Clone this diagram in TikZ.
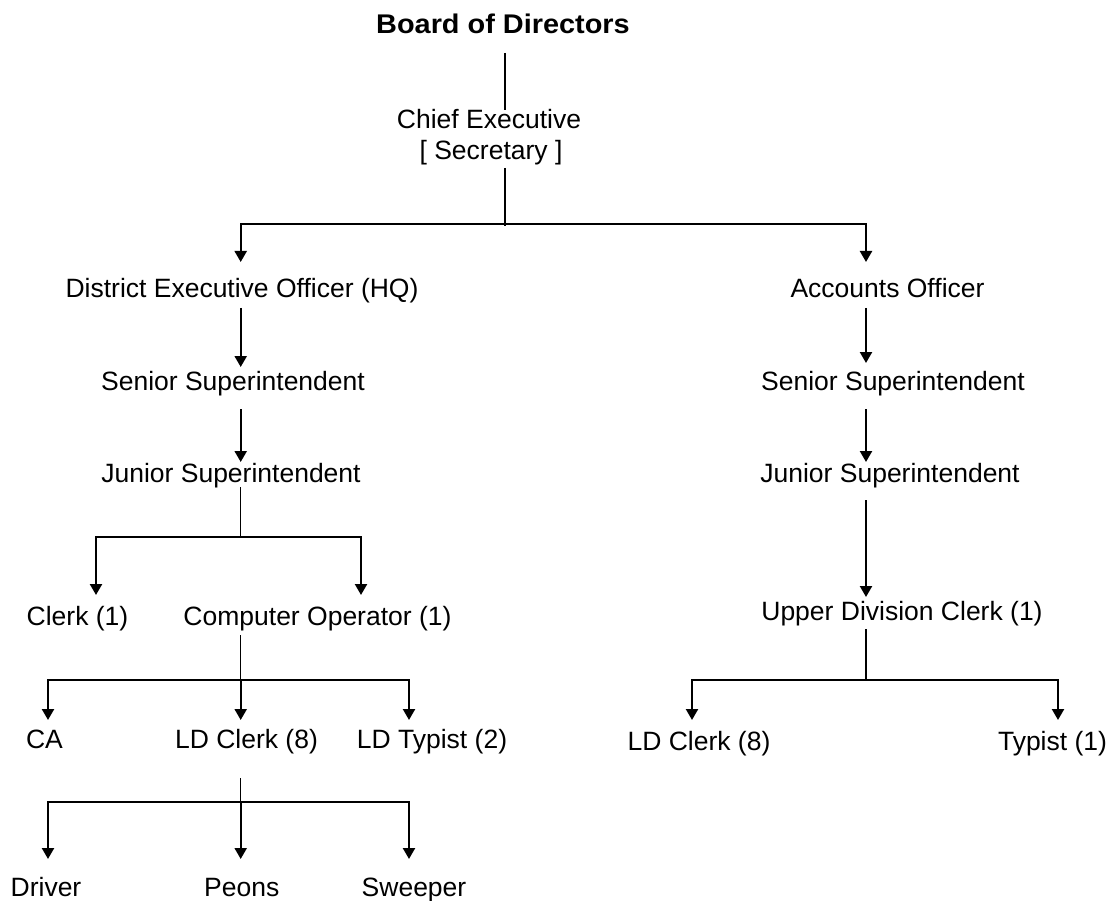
\documentclass[tikz,border=0pt]{standalone}
\usepackage{fontspec}
\setmainfont{Liberation Sans}
\usetikzlibrary{arrows.meta,calc}
\begin{document}
\begin{tikzpicture}[x=1pt,y=-1pt,
  lbl/.style={anchor=base,inner sep=0pt,font=\fontsize{26.5}{30}\selectfont},
  ttl/.style={anchor=base,inner sep=0pt,font=\fontsize{27}{30}\selectfont\bfseries\addfontfeature{FakeStretch=1.07}},
  thinl/.style={line width=1.2pt},
  arr/.style={line width=2.3pt,-{Triangle[width=12pt,length=11pt]}}]
\useasboundingbox (0,0) rectangle (1111,901);
% columns and junctions
\coordinate (cM) at (505,0);
\coordinate (cL) at (240.7,0);
\coordinate (cR) at (866,0);
\coordinate (jTop) at (505,224);
\coordinate (jJ) at (240.7,537);
\coordinate (jC) at (240.7,680);
\coordinate (jD) at (240.7,802);
\coordinate (jU) at (866,680);
% nodes
\node[ttl] (board) at (503,34) {Board of Directors};
\node[lbl] (chief) at (489,128.5) {Chief Executive};
\node[lbl] (sec) at (491,160) {[ Secretary ]};
\node[lbl] (deo) at (242,298) {District Executive Officer (HQ)};
\node[lbl] (ao) at (887.5,298) {Accounts Officer};
\node[lbl] (ssL) at (233,390) {Senior Superintendent};
\node[lbl] (jsL) at (231,482) {Junior Superintendent};
\node[lbl] (ssR) at (893,390) {Senior Superintendent};
\node[lbl] (jsR) at (890,482) {Junior Superintendent};
\node[lbl] (clerk) at (77.5,625) {Clerk (1)};
\node[lbl] (compop) at (317.5,625) {Computer Operator (1)};
\node[lbl] (udc) at (902,620) {Upper Division Clerk (1)};
\node[lbl] (ca) at (44.5,748) {CA};
\node[lbl] (ldcL) at (246.5,748) {LD Clerk (8)};
\node[lbl] (ldt) at (432,748) {LD Typist (2)};
\node[lbl] (ldcR) at (699,750) {LD Clerk (8)};
\node[lbl] (typ) at (1052.5,750) {Typist (1)};
\node[lbl] (driver) at (46,896) {Driver};
\node[lbl] (peons) at (241.7,896) {Peons};
\node[lbl] (sweeper) at (414,896) {Sweeper};
% top
\draw[thinl] ($(cM |- board.base)+(0,19)$) -- ($(cM |- chief.base)+(0,-18)$);
\draw[thinl] ($(cM |- sec.base)+(0,8)$) -- ($(jTop)+(0,2)$);
\draw[arr] (jTop) -| ($(cL |- deo.base)+(0,-36)$);
\draw[arr] (jTop) -| ($(cR |- ao.base)+(0,-36)$);
% left branch
\draw[arr] ($(cL |- deo.base)+(0,10)$) -- ($(cL |- ssL.base)+(0,-23)$);
\draw[arr] ($(cL |- ssL.base)+(0,19)$) -- ($(cL |- jsL.base)+(0,-20)$);
\draw[thinl] ($(cL |- jsL.base)+(0,5)$) -- (jJ);
\draw[arr] (jJ) -| ($(clerk.base)+(18.5,-30)$);
\draw[arr] (jJ) -| ($(compop.base)+(43.5,-30)$);
\draw[thinl] ($(cL |- compop.base)+(0,10)$) -- (jC);
\draw[arr] (jC) -| ($(ca.base)+(3.5,-28)$);
\draw[arr] (jC) -- ($(cL |- ldcL.base)+(0,-28)$);
\draw[arr] (jC) -| ($(ldt.base)+(-23,-28)$);
\draw[thinl] ($(cL |- ldcL.base)+(0,30)$) -- (jD);
\draw[arr] (jD) -| ($(driver.base)+(2,-37)$);
\draw[arr] (jD) -- ($(cL |- peons.base)+(0,-37)$);
\draw[arr] (jD) -| ($(sweeper.base)+(-5,-37)$);
% right branch
\draw[arr] ($(cR |- ao.base)+(0,10)$) -- ($(cR |- ssR.base)+(0,-27)$);
\draw[arr] ($(cR |- ssR.base)+(0,19)$) -- ($(cR |- jsR.base)+(0,-20)$);
\draw[arr] ($(cR |- jsR.base)+(0,18)$) -- ($(cR |- udc.base)+(0,-23)$);
\draw[thinl] ($(cR |- udc.base)+(0,9)$) -- (jU);
\draw[arr] (jU) -| ($(ldcR.base)+(-7,-30)$);
\draw[arr] (jU) -| ($(typ.base)+(5.5,-30)$);
\end{tikzpicture}
\end{document}
